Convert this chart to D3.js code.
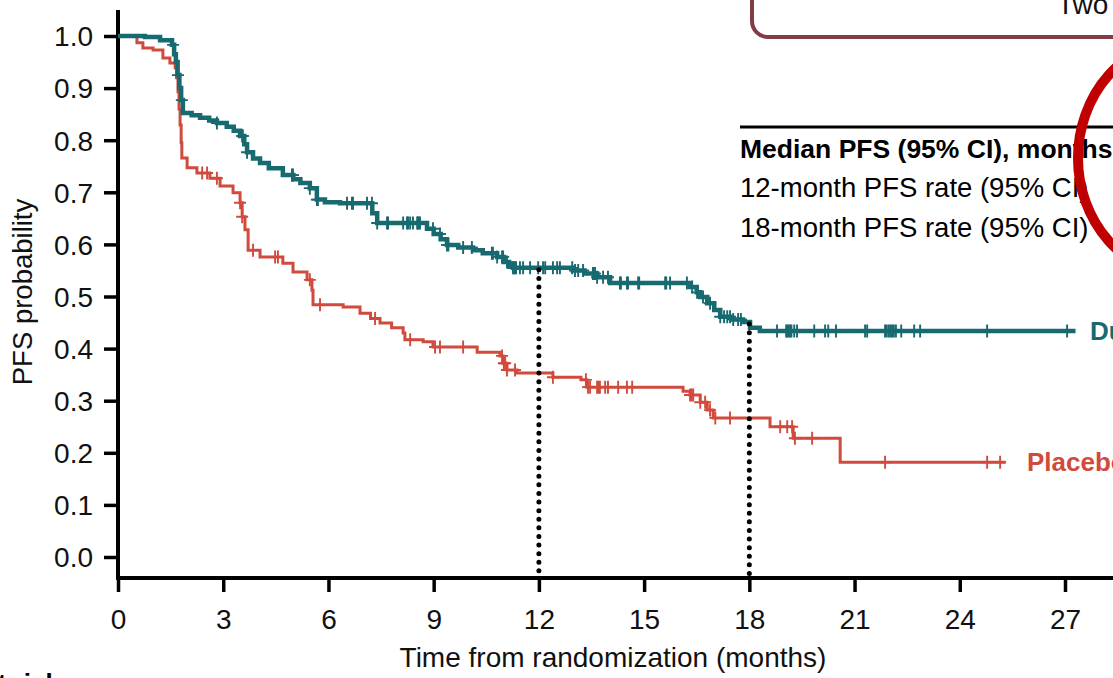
<!DOCTYPE html>
<html>
<head>
<meta charset="utf-8">
<script src="https://cdn.jsdelivr.net/npm/d3@7"></script>
<style>
  html, body { margin: 0; padding: 0; background: #fff; overflow: hidden; }
  svg { display: block; font-family: "Liberation Sans", Arial, sans-serif; }
</style>
</head>
<body>
<svg id="svg1" width="1113" height="678"></svg>
<script>
// kaplan meier pfs curves, durvalumab vs placebo
// values (step times in months, survival after each step)

let xTicks = [0, 3, 6, 9, 12, 15, 18, 21, 24, 27];
let yTicks = [0, 0.1, 0.2, 0.3, 0.4, 0.5, 0.6, 0.7, 0.8, 0.9, 1.0];

let durvaTimes = [0.77, 1.2, 1.54, 1.6, 1.65, 1.7, 1.75, 1.8, 1.85, 2.1, 2.34, 2.6, 2.82, 3.1, 3.3, 3.48, 3.6, 3.68, 3.85, 4.05, 4.3, 4.7, 5.0, 5.2, 5.47, 5.67, 5.9, 6.33, 7.25, 7.39, 8.81, 9.0, 9.2, 9.38, 9.7, 10.12, 10.4, 10.81, 11.0, 11.15, 11.26, 12.97, 13.3, 13.66, 14.03, 16.31, 16.5, 16.6, 16.8, 17.0, 17.17, 17.5, 17.82, 18.02, 18.3];
let durvaSurv = [0.998, 0.992, 0.983, 0.965, 0.95, 0.925, 0.9, 0.877, 0.852, 0.848, 0.843, 0.838, 0.833, 0.826, 0.818, 0.808, 0.792, 0.777, 0.765, 0.756, 0.746, 0.733, 0.725, 0.718, 0.708, 0.686, 0.681, 0.679, 0.66, 0.641, 0.63, 0.62, 0.61, 0.599, 0.594, 0.589, 0.583, 0.576, 0.566, 0.56, 0.555, 0.55, 0.544, 0.537, 0.526, 0.518, 0.508, 0.499, 0.487, 0.474, 0.461, 0.456, 0.451, 0.44, 0.434];
let durvaEnd = 27.3;
let durvaCensor = [1.57, 1.71, 1.82, 2.82, 3.54, 3.56, 3.68, 4.96, 4.99, 5.47, 5.67, 5.7, 6.53, 6.67, 6.7, 7.1, 7.24, 7.39, 7.67, 7.7, 8.13, 8.24, 8.27, 8.33, 8.41, 8.53, 8.55, 8.58, 8.61, 8.98, 9.18, 9.38, 9.42, 9.84, 10.09, 10.66, 10.69, 10.81, 10.95, 10.98, 11.09, 11.26, 11.29, 11.32, 11.35, 11.46, 11.55, 11.75, 11.98, 12.12, 12.18, 12.4, 12.52, 12.6, 12.95, 13.03, 13.12, 13.26, 13.54, 13.57, 13.6, 13.66, 13.83, 13.97, 14.31, 14.34, 14.51, 14.54, 14.83, 14.86, 15.6, 15.63, 15.74, 16.22, 16.37, 16.51, 16.68, 16.88, 17.17, 17.28, 17.37, 17.45, 17.54, 17.68, 17.76, 18.79, 19.05, 19.08, 19.12, 19.16, 19.2, 19.28, 19.36, 19.85, 20.16, 20.25, 20.47, 21.3, 21.36, 21.87, 21.92, 21.98, 22.03, 22.07, 22.12, 22.18, 22.33, 22.7, 22.87, 24.78, 27.06];

let placeboTimes = [0.54, 0.71, 1.0, 1.28, 1.48, 1.63, 1.67, 1.71, 1.74, 1.77, 1.8, 1.82, 1.97, 2.25, 2.62, 2.91, 3.28, 3.48, 3.54, 3.62, 3.71, 4.05, 4.7, 4.99, 5.39, 5.53, 5.56, 6.42, 6.9, 7.2, 7.47, 7.8, 8.13, 8.18, 8.7, 8.98, 10.24, 10.89, 10.98, 11.09, 11.38, 12.4, 13.2, 13.37, 16.11, 16.31, 16.6, 16.8, 16.97, 18.59, 19.25, 20.59];
let placeboSurv = [0.987, 0.977, 0.973, 0.958, 0.948, 0.939, 0.92, 0.893, 0.86, 0.829, 0.795, 0.766, 0.747, 0.737, 0.727, 0.712, 0.699, 0.68, 0.653, 0.628, 0.589, 0.576, 0.564, 0.547, 0.532, 0.512, 0.484, 0.48, 0.468, 0.458, 0.449, 0.44, 0.43, 0.417, 0.413, 0.403, 0.393, 0.386, 0.372, 0.359, 0.353, 0.345, 0.34, 0.326, 0.318, 0.311, 0.297, 0.282, 0.267, 0.25, 0.228, 0.182];
let placeboEnd = 25.3;
let placeboCensor = [2.4, 2.54, 2.82, 3.48, 3.54, 3.85, 4.48, 4.56, 5.47, 5.76, 7.33, 8.33, 9.04, 9.18, 9.84, 10.95, 11.0, 11.04, 11.09, 11.32, 12.4, 13.34, 13.4, 13.46, 13.66, 13.7, 13.74, 13.89, 13.97, 14.26, 14.51, 14.66, 16.31, 16.36, 16.4, 16.6, 16.74, 16.88, 17.03, 17.45, 18.88, 19.08, 19.22, 19.3, 19.79, 21.87, 24.78, 25.15];

let medianMarks = [12, 18];

let tealColor = "#176a70";
let redColor = "#d04a3d";

let svg1 = d3.select("#svg1");

let xScale = d3.scaleLinear([0, 27], [118, 1065]);
let yScale = d3.scaleLinear([0, 1], [557, 36]);

function survAt(times, surv, t)
{
    let s = 1;
    for (let i = 0; i < times.length; i++)
    {
        if (times[i] <= t) s = surv[i];
    }
    return s;
}

function stepPoints(times, surv, end)
{
    let pts = [[0, 1]];
    for (let i = 0; i < times.length; i++)
    {
        pts.push([times[i], surv[i]]);
    }
    pts.push([end, surv[surv.length - 1]]);
    return pts;
}

// top right box (cut off) and the red circle
svg1.append("rect")
    .attr("x", 752).attr("y", -60)
    .attr("width", 500).attr("height", 97)
    .attr("rx", 16)
    .attr("fill", "none")
    .attr("stroke", "#843c44")
    .attr("stroke-width", 4);
svg1.append("text")
    .attr("x", 1057).attr("y", 14)
    .attr("font-size", 28)
    .attr("fill", "#111")
    .text("Two");

// table lines
svg1.append("line")
    .attr("x1", 740).attr("x2", 1113)
    .attr("y1", 127).attr("y2", 127)
    .attr("stroke", "#000").attr("stroke-width", 3);
svg1.append("text")
    .attr("x", 740).attr("y", 158)
    .attr("font-size", 26.5).attr("font-weight", "bold")
    .text("Median PFS (95% CI), months");
svg1.append("text")
    .attr("x", 740).attr("y", 197)
    .attr("font-size", 27.5)
    .text("12-month PFS rate (95% CI)");
svg1.append("text")
    .attr("x", 740).attr("y", 237)
    .attr("font-size", 27.5)
    .text("18-month PFS rate (95% CI)");

svg1.append("ellipse")
    .attr("cx", 1184).attr("cy", 158)
    .attr("rx", 106).attr("ry", 118)
    .attr("fill", "none")
    .attr("stroke", "#c00000")
    .attr("stroke-width", 10);

// axes
let yAxis = svg1.append("g")
    .attr("transform", "translate(118,0)")
    .call(d3.axisLeft(yScale).tickValues(yTicks).tickFormat(d3.format(".1f")).tickSize(14).tickPadding(11));
let xAxis = svg1.append("g")
    .attr("transform", "translate(0,578)")
    .call(d3.axisBottom(xScale).tickValues(xTicks).tickFormat(d3.format("d")).tickSize(14).tickPadding(17));

yAxis.select(".domain").remove();
xAxis.select(".domain").remove();
yAxis.selectAll("line").attr("stroke", "#000").attr("stroke-width", 3.5);
xAxis.selectAll("line").attr("stroke", "#000").attr("stroke-width", 3.5);
yAxis.selectAll("text").attr("font-size", 28).attr("font-family", "Liberation Sans, Arial, sans-serif").attr("fill", "#111").attr("dy", "0.35em");
xAxis.selectAll("text").attr("font-size", 28).attr("font-family", "Liberation Sans, Arial, sans-serif").attr("fill", "#111");

svg1.append("line")
    .attr("x1", 118).attr("x2", 118)
    .attr("y1", 10).attr("y2", 580)
    .attr("stroke", "#000").attr("stroke-width", 4);
svg1.append("line")
    .attr("x1", 116).attr("x2", 1113)
    .attr("y1", 578).attr("y2", 578)
    .attr("stroke", "#000").attr("stroke-width", 4);

svg1.append("text")
    .attr("x", 613).attr("y", 667)
    .attr("text-anchor", "middle")
    .attr("font-size", 28)
    .attr("fill", "#111")
    .text("Time from randomization (months)");
svg1.append("text")
    .attr("transform", "translate(32,292) rotate(-90)")
    .attr("text-anchor", "middle")
    .attr("font-size", 27.5)
    .attr("fill", "#111")
    .text("PFS probability");

svg1.append("text")
    .attr("x", 60).attr("y", 692)
    .attr("text-anchor", "end")
    .attr("font-size", 26).attr("font-weight", "bold")
    .text("Number at risk");

// curves
let line = d3.line()
    .x(d => xScale(d[0]))
    .y(d => yScale(d[1]))
    .curve(d3.curveStepAfter);

function drawArm(times, surv, end, censor, color, width)
{
    svg1.append("path")
        .attr("d", line(stepPoints(times, surv, end)))
        .attr("fill", "none")
        .attr("stroke", color)
        .attr("stroke-width", width);

    let marks = svg1.append("g");
    marks.selectAll("path")
        .data(censor)
        .join("path")
        .attr("d", function(t) {
            let cx = xScale(t);
            let cy = yScale(survAt(times, surv, t));
            return "M" + (cx - 6) + "," + cy + "H" + (cx + 6) + "M" + cx + "," + (cy - 6.5) + "V" + (cy + 6.5);
        })
        .attr("fill", "none")
        .attr("stroke", color)
        .attr("stroke-width", 1.9);
}

drawArm(placeboTimes, placeboSurv, placeboEnd, placeboCensor, redColor, 3);
drawArm(durvaTimes, durvaSurv, durvaEnd, durvaCensor, tealColor, 4.5);

// median markers at 12 and 18 months
svg1.selectAll(".medline")
    .data(medianMarks)
    .join("line")
    .attr("class", "medline")
    .attr("x1", d => xScale(d)).attr("x2", d => xScale(d))
    .attr("y1", d => yScale(survAt(durvaTimes, durvaSurv, d)) + 2)
    .attr("y2", 576)
    .attr("stroke", "#000")
    .attr("stroke-width", 5)
    .attr("stroke-linecap", "round")
    .attr("stroke-dasharray", "0 8.6");

// arm labels
svg1.append("text")
    .attr("x", 1090).attr("y", yScale(durvaSurv[durvaSurv.length - 1]))
    .attr("dy", "0.35em")
    .attr("font-size", 26).attr("font-weight", "bold")
    .attr("fill", tealColor)
    .text("Durvalumab");
svg1.append("text")
    .attr("x", 1027).attr("y", yScale(placeboSurv[placeboSurv.length - 1]))
    .attr("dy", "0.35em")
    .attr("font-size", 26).attr("font-weight", "bold")
    .attr("fill", redColor)
    .text("Placebo");
</script>
</body>
</html>
